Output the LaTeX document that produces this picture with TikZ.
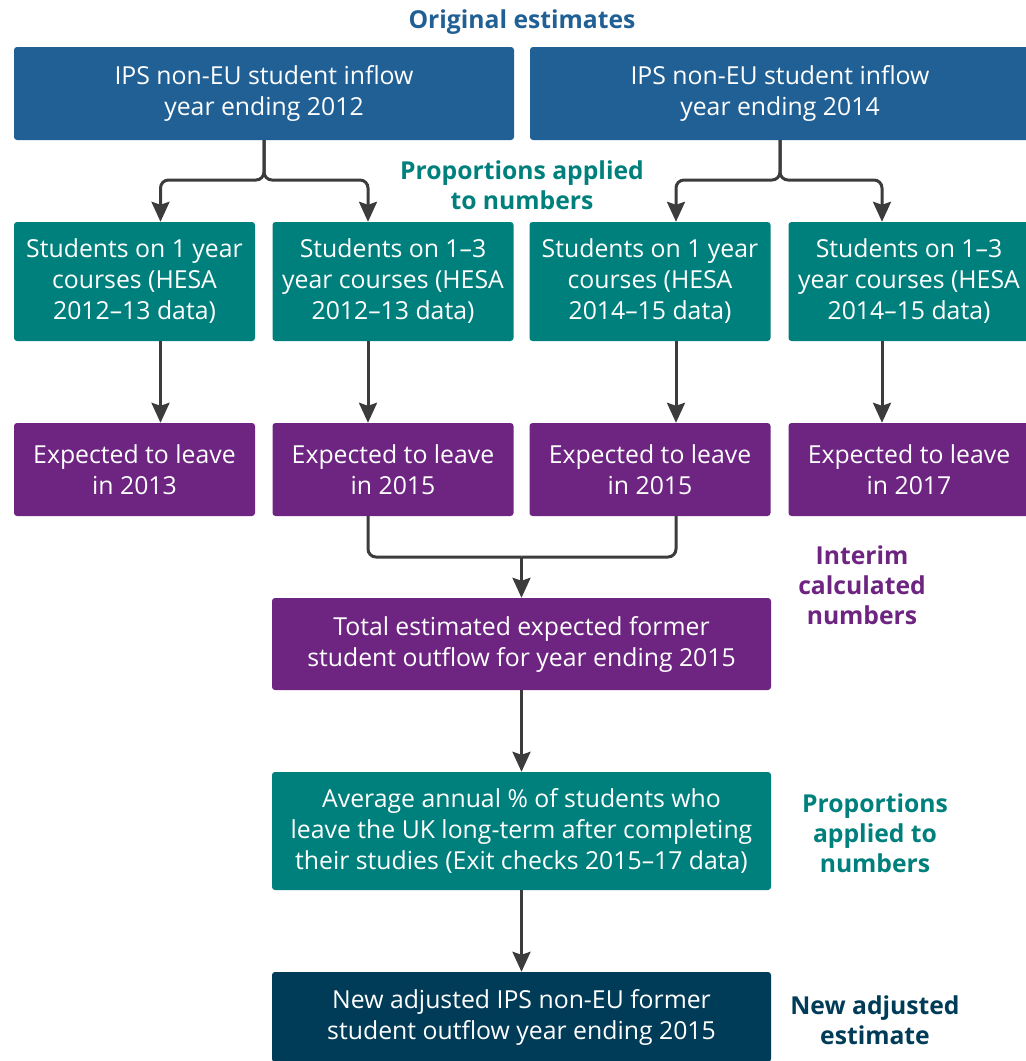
\documentclass[tikz,border=0pt]{standalone}
\usepackage{fontspec}
\setmainfont{Open Sans}
\usetikzlibrary{positioning, calc, arrows.meta}
\definecolor{onsblue}{HTML}{206095}
\definecolor{onsteal}{HTML}{00807C}
\definecolor{onspurple}{HTML}{6E2481}
\definecolor{onsnavy}{HTML}{003C57}
\definecolor{arrgrey}{HTML}{3C3C3C}
\tikzset{
	box/.style={rounded corners=3pt, text=white, align=center, inner sep=0pt, font=\fontsize{24.8}{31}\selectfont},
	bluebox/.style={box, fill=onsblue, minimum width=500pt, minimum height=93pt},
	tealbox/.style={box, fill=onsteal, minimum width=241pt, minimum height=119pt},
	purplebox/.style={box, fill=onspurple, minimum width=241pt, minimum height=93pt},
	widebox/.style={box, minimum width=499pt},
	lbl/.style={align=center, font=\fontsize{24.7}{30}\selectfont\bfseries},
	arr/.style={-{Stealth[width=18pt,length=20pt,inset=3pt]}, line width=3pt, draw=arrgrey, rounded corners=8pt},
	link/.style={line width=3pt, draw=arrgrey, rounded corners=8pt},
}

\begin{document}
\begin{tikzpicture}[x=1pt, y=-1pt]
	\useasboundingbox (0,0) rectangle (1026,1061);
	\clip (0,0) rectangle (1026,1061);

	\node[lbl, text=onsblue] (orig) at (522,22) {Original estimates};
	\node[bluebox] (in12) at (264,93.5) {IPS non-EU student inflow\\year ending 2012};
	\node[bluebox] (in14) at (780,93.5) {IPS non-EU student inflow\\year ending 2014};
	\node[lbl, text=onsteal] (prop1) at (522,185) {Proportions applied\\to numbers};

	\node[tealbox] (s1) at (134.5,281.5) {Students on 1 year\\courses (HESA\\2012–13 data)};
	\node[tealbox] (s2) at (393,281.5) {Students on 1–3\\year courses (HESA\\2012–13 data)};
	\node[tealbox] (s3) at (650,281.5) {Students on 1 year\\courses (HESA\\2014–15 data)};
	\node[tealbox] (s4) at (909,281.5) {Students on 1–3\\year courses (HESA\\2014–15 data)};

	\node[purplebox] (e1) at (134.5,469.5) {Expected to leave\\in 2013};
	\node[purplebox] (e2) at (393,469.5) {Expected to leave\\in 2015};
	\node[purplebox] (e3) at (650,469.5) {Expected to leave\\in 2015};
	\node[purplebox] (e4) at (909,469.5) {Expected to leave\\in 2017};

	\node[widebox, fill=onspurple, minimum height=92pt] (tot) at (521.5,644) {Total estimated expected former\\student outflow for year ending 2015};
	\node[lbl, text=onspurple] (interim) at (862,585) {Interim\\calculated\\numbers};

	\node[widebox, fill=onsteal, minimum height=118pt] (exit) at (521.5,831) {Average annual \% of students who\\leave the UK long-term after completing\\their studies (Exit checks 2015–17 data)};
	\node[lbl, text=onsteal] (prop2) at (875,833) {Proportions\\applied to\\numbers};

	\node[widebox, fill=onsnavy, minimum height=90pt] (adj) at (521.5,1017) {New adjusted IPS non-EU former\\student outflow year ending 2015};
	\node[lbl, text=onsnavy] (newest) at (875,1020) {New adjusted\\estimate};

	\coordinate (br12) at (264,180);
	\coordinate (br14) at (780,180);
	\coordinate (mrg) at (521.5,557);

	\draw[arr] (in12.south) -- (br12) -| ([xshift=26pt]s1.north);
	\draw[arr] (in12.south) -- (br12) -| ([xshift=-25pt]s2.north);
	\draw[arr] (in14.south) -- (br14) -| ([xshift=26pt]s3.north);
	\draw[arr] (in14.south) -- (br14) -| ([xshift=-27pt]s4.north);

	\draw[arr] ([xshift=26pt]s1.south) -- ([xshift=26pt]e1.north);
	\draw[arr] ([xshift=-25pt]s2.south) -- ([xshift=-25pt]e2.north);
	\draw[arr] ([xshift=26pt]s3.south) -- ([xshift=26pt]e3.north);
	\draw[arr] ([xshift=-27pt]s4.south) -- ([xshift=-27pt]e4.north);

	\draw[link] ([xshift=-25pt]e2.south) |- (mrg);
	\draw[link] ([xshift=26pt]e3.south) |- (mrg);
	\draw[arr] (mrg) -- (tot.north);
	\draw[arr] (tot.south) -- (exit.north);
	\draw[arr] (exit.south) -- (adj.north);
\end{tikzpicture}
\end{document}
